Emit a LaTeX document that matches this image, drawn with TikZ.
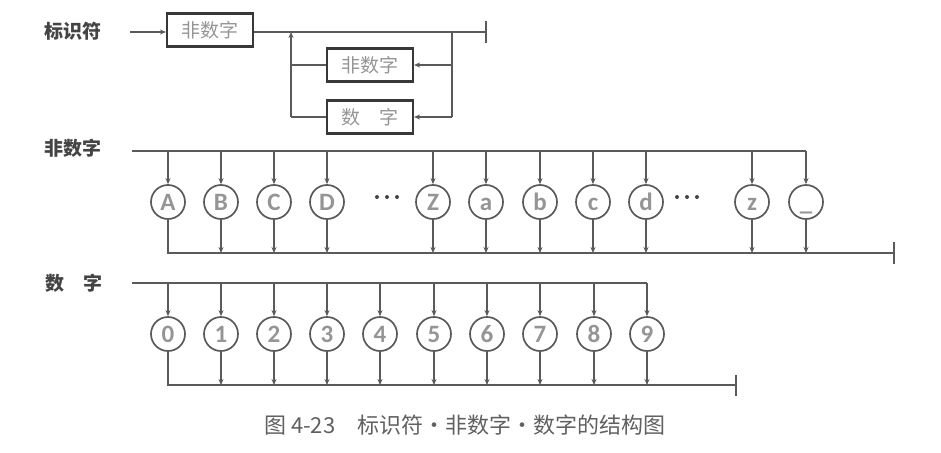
\documentclass[tikz,border=0pt]{standalone}
\usepackage{fontspec}
\setmainfont{Carlito}
\newfontfamily\cjk{Noto Sans CJK SC}
\usetikzlibrary{arrows.meta}
\definecolor{lin}{HTML}{5A5A5A}
\definecolor{txt}{HTML}{959595}
\definecolor{lab}{HTML}{444444}
\definecolor{bord}{HTML}{383838}
\begin{document}
\begin{tikzpicture}[x=1pt,y=-1pt,
  line/.style={draw=lin,line width=1.1pt},
  arr/.style={line, -{Stealth[length=6pt,width=5pt]}},
  box/.style={draw=bord,line width=2.1pt,minimum width=86pt,minimum height=33pt,inner sep=0pt,font=\cjk\fontsize{19}{22}\selectfont,text=txt},
  circ/.style={circle,draw=lin,line width=1.7pt,minimum size=34pt,inner sep=0pt,text height=16pt,text depth=0pt,font=\bfseries\fontsize{25}{27}\selectfont,text=txt},
  lbl/.style={font=\cjk\bfseries\fontsize{19}{22}\selectfont,text=lab,inner sep=0pt}]
\useasboundingbox (0,0) rectangle (941,452);
% ---------- top section
\node[lbl] (L1) at (73,31) {标识符};
\coordinate (s1) at (130,32);
\node[box] (b1) at (210,30) {非数字};
\node[box] (b2) at (370,65) {非数字};
\node[box] (b3) at (370,117) {数\hspace{1em}字};
\coordinate (e1) at (486,32);
\coordinate (r1) at (452,32);
\coordinate (r2) at (452,65);
\coordinate (r3) at (452,117);
\coordinate (l1) at (291,32);
\coordinate (l2) at (291,65);
\coordinate (l3) at (291,117);
\draw[arr] (s1) -- (b1.west |- s1);
\draw[line] (b1.east |- e1) -- (e1);
\draw[line] (e1) ++(0,-11) -- ++(0,22);
\draw[line] (r1) -- (r3);
\draw[arr] (r2) -- (b2.east);
\draw[arr] (r3) -- (b3.east);
\draw[line] (b2.west) -- (l2);
\draw[line] (b3.west) -- (l3);
\draw[arr] (l3) -- (l1);
% ---------- middle section
\node[lbl] (L2) at (73,148) {非数字};
\coordinate (s2) at (132,151);
\coordinate (e2) at (894,253);
\foreach \n/\t/\x in {cA/A/168,cB/B/221,cC/C/274,cD/D/327,cZ/Z/433,ca/a/486,cb/b/540,cc/c/593,cd/d/646,cz/z/752,cu/\_/806}{
  \node[circ] (\n) at (\x,202) {\t};
  \coordinate (t\n) at (\x,151);
  \coordinate (u\n) at (\x,253);
}
\draw[line] (s2) -- (tcu);
\foreach \n in {cA,cB,cC,cD,cZ,ca,cb,cc,cd,cz,cu}{
  \draw[arr] (t\n) -- (\n);
}
\draw[line] (cA) -- (ucA) -- (e2);
\foreach \n in {cB,cC,cD,cZ,ca,cb,cc,cd,cz,cu}{
  \draw[arr] (\n) -- (u\n);
}
\draw[line] (e2) ++(0,-11) -- ++(0,22);
\foreach \x in {377,387,397,677,687,697}{
  \fill[lab] (\x,197) circle (2pt);
}
% ---------- bottom section
\node[lbl] (L3) at (74,283) {数\hspace{1em}字};
\coordinate (s3) at (132,283);
\coordinate (e3) at (736,385);
\foreach \d/\x in {0/168,1/221,2/274,3/327,4/380,5/434,6/487,7/540,8/594,9/647}{
  \node[circ] (d\d) at (\x,334) {\d};
  \coordinate (td\d) at (\x,283);
  \coordinate (ud\d) at (\x,385);
}
\draw[line] (s3) -- (td9);
\foreach \d in {0,...,9}{
  \draw[arr] (td\d) -- (d\d);
}
\draw[line] (d0) -- (ud0) -- (e3);
\foreach \d in {1,...,9}{
  \draw[arr] (d\d) -- (ud\d);
}
\draw[line] (e3) ++(0,-10) -- ++(0,21);
% ---------- caption
\node[font=\cjk\fontsize{22}{26}\selectfont,text=lab!85,anchor=west,inner sep=0pt] (cap) at (264,425) {图 4-23\hspace{1em}标识符・非数字・数字的结构图};
\end{tikzpicture}
\end{document}
